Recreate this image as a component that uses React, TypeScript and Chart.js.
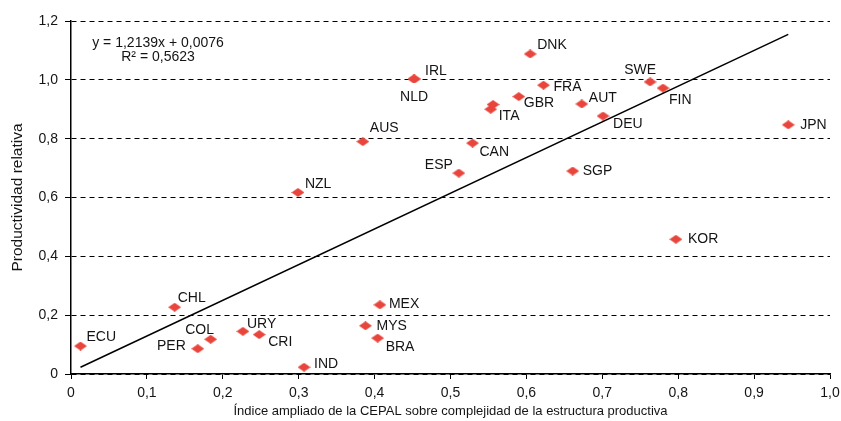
import React, { useEffect, useRef } from "react";
import { Chart, registerables } from "chart.js";

Chart.register(...registerables);

// ---- Data ----
const countries = [
  "ECU", "CHL", "PER", "COL", "URY", "CRI", "IND", "MEX", "MYS", "BRA",
  "NZL", "AUS", "IRL", "NLD", "ESP", "CAN", "ITA", "", "GBR", "DNK",
  "FRA", "SGP", "AUT", "DEU", "SWE", "FIN", "KOR", "JPN",
];
const complexityIndex = [
  0.0125, 0.1366, 0.167, 0.184, 0.2265, 0.248, 0.307, 0.407, 0.388, 0.404,
  0.299, 0.3845, 0.452, 0.452, 0.511, 0.529, 0.553, 0.556, 0.590, 0.605,
  0.6226, 0.661, 0.673, 0.701, 0.763, 0.780, 0.797, 0.945,
];
const relativeProductivity = [
  0.095, 0.227, 0.086, 0.118, 0.145, 0.134, 0.023, 0.235, 0.164, 0.122,
  0.617, 0.790, 1.003, 1.003, 0.683, 0.785, 0.900, 0.916, 0.943, 1.088,
  0.982, 0.690, 0.918, 0.877, 0.993, 0.972, 0.458, 0.847,
];

// Trend line coefficients (as printed on the chart)
const trendSlope = 1.2139;
const trendIntercept = 0.0076;
const equationLines = ["y = 1,2139x + 0,0076", "R² = 0,5623"];

const xTicks = [0, 0.1, 0.2, 0.3, 0.4, 0.5, 0.6, 0.7, 0.8, 0.9, 1.0];
const yTicks = [0, 0.2, 0.4, 0.6, 0.8, 1.0, 1.2];

const xTitle = "Índice ampliado de la CEPAL sobre complejidad de la estructura productiva";
const yTitle = "Productividad relativa";

// ---- Label placement (layout only) : [dx, dy, align] ----
const labelPlacement: [number, number, CanvasTextAlign][] = [
  [6, -9, "left"],   // ECU
  [3, -9, "left"],   // CHL
  [-12, -3, "right"],// PER
  [-11, -9.5, "center"], // COL
  [4, -7, "left"],   // URY
  [9, 8, "left"],    // CRI
  [10, -3, "left"],  // IND
  [9, -1, "left"],   // MEX
  [11, 0, "left"],   // MYS
  [8, 9, "left"],    // BRA
  [7, -8, "left"],   // NZL
  [7, -13, "left"],  // AUS
  [11, -8, "left"],  // IRL
  [0, 18, "center"], // NLD
  [-6, -8, "right"], // ESP
  [7, 9, "left"],    // CAN
  [8, 7, "left"],    // ITA
  [0, 0, "left"],    // (unlabeled)
  [5, 7, "left"],    // GBR
  [7, -9, "left"],   // DNK
  [10, 2, "left"],   // FRA
  [10, 0, "left"],   // SGP
  [7, -6, "left"],   // AUT
  [10, 8, "left"],   // DEU
  [6, -12, "right"], // SWE
  [6, 12, "left"],   // FIN
  [12, 0, "left"],   // KOR
  [12, 0, "left"],   // JPN
];

const FONT = "'Liberation Sans', Arial, sans-serif";
const MARKER_COLOR = "#E8453C";
const TEXT_COLOR = "#141414";

function makeDiamond(): HTMLCanvasElement {
  const c = document.createElement("canvas");
  c.width = 13;
  c.height = 9;
  const ctx = c.getContext("2d")!;
  ctx.fillStyle = MARKER_COLOR;
  ctx.beginPath();
  ctx.moveTo(6.5, 0);
  ctx.lineTo(13, 4.5);
  ctx.lineTo(6.5, 9);
  ctx.lineTo(0, 4.5);
  ctx.closePath();
  ctx.fill();
  return c;
}

const fmt = (v: number) => {
  const r = Math.round(v * 10) / 10;
  return r === 0 ? "0" : r.toFixed(1).replace(".", ",");
};

export default function App() {
  const ref = useRef<HTMLCanvasElement>(null);

  useEffect(() => {
    if (!ref.current) return;
    const diamond = makeDiamond();
    const points = complexityIndex.map((x, i) => ({ x, y: relativeProductivity[i] }));
    const xMin = Math.min(...complexityIndex);
    const xMax = Math.max(...complexityIndex);
    const trend = [
      { x: xMin, y: trendSlope * xMin + trendIntercept },
      { x: xMax, y: trendSlope * xMax + trendIntercept },
    ];

    const labelPlugin = {
      id: "labels",
      afterDatasetsDraw(chart: any) {
        const ctx = chart.ctx as CanvasRenderingContext2D;
        const meta = chart.getDatasetMeta(1);
        ctx.save();
        ctx.font = `14px ${FONT}`;
        ctx.fillStyle = TEXT_COLOR;
        ctx.textBaseline = "middle";
        meta.data.forEach((el: any, i: number) => {
          const name = countries[i];
          if (!name) return;
          const [dx, dy, align] = labelPlacement[i];
          ctx.textAlign = align;
          ctx.fillText(name, el.x + dx, el.y + dy);
        });
        const { left, top } = chart.chartArea;
        ctx.textAlign = "center";
        ctx.fillText(equationLines[0], left + 87, top + 22);
        ctx.fillText(equationLines[1], left + 87, top + 36.5);
        ctx.restore();
      },
    };

    const chart = new Chart(ref.current, {
      type: "scatter",
      data: {
        datasets: [
          {
            type: "line",
            data: trend,
            borderColor: "#000",
            borderWidth: 1.5,
            pointRadius: 0,
            fill: false,
          } as any,
          {
            data: points,
            pointStyle: diamond,
            pointRadius: 6,
            backgroundColor: MARKER_COLOR,
            borderColor: MARKER_COLOR,
          },
        ],
      },
      options: {
        animation: false,
        responsive: false,
        events: [],
        layout: { padding: { top: 21, right: 11, left: 0, bottom: 0 } },
        plugins: {
          legend: { display: false },
          tooltip: { enabled: false },
        },
        scales: {
          x: {
            type: "linear",
            min: 0,
            max: 1,
            afterBuildTicks: (s: any) => {
              s.ticks = xTicks.map((v) => ({ value: v }));
            },
            ticks: {
              callback: (v: any) => fmt(Number(v)),
              color: TEXT_COLOR,
              font: { family: FONT, size: 14 },
              padding: 6,
              maxRotation: 0,
              autoSkip: false,
            },
            grid: {
              drawOnChartArea: false,
              drawTicks: true,
              tickLength: 5,
              color: "#000",
            },
            border: { display: true, color: "#000", width: 1.5 },
            title: {
              display: true,
              text: xTitle,
              color: TEXT_COLOR,
              font: { family: FONT, size: 13 },
              padding: { top: 0, bottom: 2 },
            },
            afterFit: (s: any) => {
              s.height = 47;
              s.paddingLeft = 0;
              s.paddingRight = 0;
            },
          },
          y: {
            type: "linear",
            min: 0,
            max: 1.2,
            afterBuildTicks: (s: any) => {
              s.ticks = yTicks.map((v) => ({ value: v }));
            },
            ticks: {
              callback: (v: any) => fmt(Number(v)),
              color: TEXT_COLOR,
              font: { family: FONT, size: 14 },
              padding: 7,
              autoSkip: false,
            },
            grid: {
              drawOnChartArea: true,
              drawTicks: true,
              tickLength: 6,
              color: "#000",
            },
            border: { display: true, color: "#000", width: 1.5, dash: [5, 4] },
            title: {
              display: true,
              text: yTitle,
              color: TEXT_COLOR,
              font: { family: FONT, size: 15.5 },
              padding: { top: 8, bottom: 0 },
            },
            afterFit: (s: any) => {
              s.width = 71;
              s.paddingTop = 0;
              s.paddingBottom = 0;
            },
          },
        },
      },
      plugins: [labelPlugin],
    });

    return () => chart.destroy();
  }, []);

  return (
    <div style={{ position: "absolute", left: 0, top: 0, width: 841, height: 421, background: "#fff" }}>
      <canvas ref={ref} width={841} height={421} style={{ display: "block" }} />
    </div>
  );
}
